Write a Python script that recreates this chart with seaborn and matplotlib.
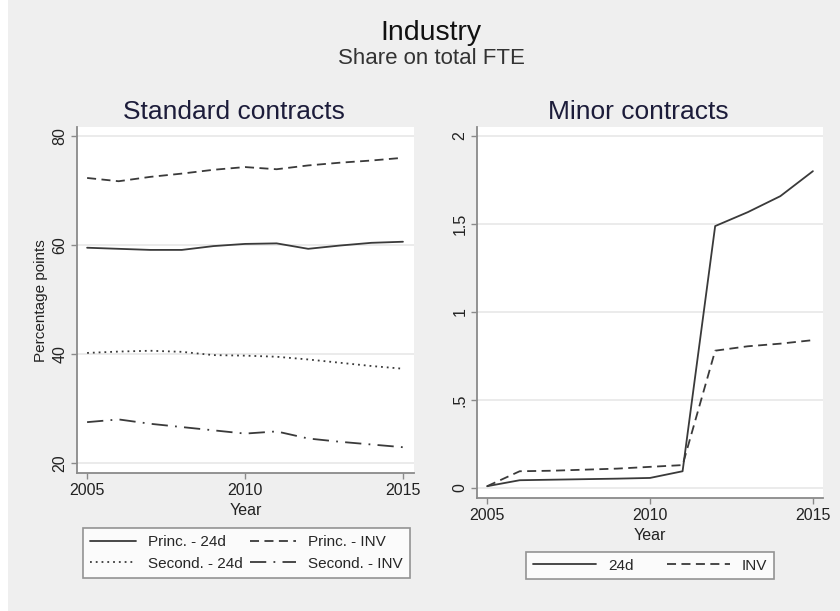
import matplotlib
matplotlib.use("Agg")
import matplotlib.pyplot as plt
import seaborn as sns
import pandas as pd
from matplotlib.patches import Rectangle

years = list(range(2005, 2016))

# Standard contracts (percentage points)
princ_24d = [59.5, 59.3, 59.1, 59.1, 59.8, 60.2, 60.3, 59.3, 59.9, 60.4, 60.6]
princ_inv = [72.3, 71.7, 72.5, 73.1, 73.8, 74.3, 73.9, 74.6, 75.1, 75.5, 76.0]
second_24d = [40.2, 40.45, 40.6, 40.4, 39.8, 39.7, 39.5, 39.0, 38.4, 37.8, 37.3]
second_inv = [27.5, 28.0, 27.2, 26.6, 26.0, 25.4, 25.8, 24.5, 23.9, 23.4, 22.9]

# Minor contracts
minor_24d = [0.01, 0.044, 0.047, 0.050, 0.053, 0.057, 0.095, 1.488, 1.567, 1.658, 1.80]
minor_inv = [0.01, 0.095, 0.098, 0.104, 0.110, 0.120, 0.130, 0.78, 0.805, 0.82, 0.84]

std_labels = ["Princ. - 24d", "Princ. - INV", "Second. - 24d", "Second. - INV"]
minor_labels = ["24d", "INV"]

left_ticks = [20, 40, 60, 80]
right_ticks = [0, 0.5, 1, 1.5, 2]
right_ticklabels = ["0", ".5", "1", "1.5", "2"]
x_ticks = [2005, 2010, 2015]

sns.set_theme(style="white")
plt.rcParams["font.family"] = ["Liberation Sans", "DejaVu Sans"]

bg = "#efefef"
line_col = "#3a3a3a"
title_col = "#1c1c3a"
styles = {
    "solid": "-",
    "dash": (0, (5, 3)),
    "dot": (0, (1, 2.2)),
    "dashdot": (0, (9, 4, 1, 4)),
}

W, H = 840, 611
fig = plt.figure(figsize=(W / 100, H / 100), dpi=100, facecolor=bg)
fig.patches.append(Rectangle((0, 0), 8 / W, 1, transform=fig.transFigure,
                             facecolor="white", edgecolor="none", zorder=-1))


def box(l, t, r, b):
    return [l / W, 1 - b / H, (r - l) / W, (b - t) / H]


ax1 = fig.add_axes(box(77, 127, 414, 473))
ax2 = fig.add_axes(box(477, 127, 823, 498))

std_df = pd.DataFrame({"Year": years, std_labels[0]: princ_24d, std_labels[1]: princ_inv,
                       std_labels[2]: second_24d, std_labels[3]: second_inv})
minor_df = pd.DataFrame({"Year": years, minor_labels[0]: minor_24d, minor_labels[1]: minor_inv})

std_styles = [styles["solid"], styles["dash"], styles["dot"], styles["dashdot"]]
minor_styles = [styles["solid"], styles["dash"]]

h1 = []
for lab, ls in zip(std_labels, std_styles):
    sns.lineplot(data=std_df, x="Year", y=lab, ax=ax1, color=line_col, linestyle=ls, lw=1.3)
    h1.append(ax1.lines[-1])
h2 = []
for lab, ls in zip(minor_labels, minor_styles):
    sns.lineplot(data=minor_df, x="Year", y=lab, ax=ax2, color=line_col, linestyle=ls, lw=1.3)
    h2.append(ax2.lines[-1])

for ax in (ax1, ax2):
    ax.set_facecolor("white")
    for s in ("top", "right"):
        ax.spines[s].set_visible(False)
    for s in ("left", "bottom"):
        ax.spines[s].set_color("#8a8a8a")
        ax.spines[s].set_linewidth(1.3)
    ax.set_xticks(x_ticks)
    ax.set_xticklabels([str(x) for x in x_ticks], fontsize=11.5)
    ax.tick_params(axis="both", direction="out", length=4, width=1, color="#8a8a8a",
                   pad=3, labelcolor="#222222", bottom=True, left=True)
    ax.yaxis.grid(True, color="#e8e8e8", lw=1.2)
    ax.set_axisbelow(True)
    ax.set_xlabel("Year", fontsize=11.5, color="#222222", labelpad=4)
    ax.set_ylabel("")

ax1.set_xlim(2004.68, 2015.35)
ax1.set_ylim(18.17, 81.65)
ax1.set_yticks(left_ticks)
ax1.set_yticklabels([str(t) for t in left_ticks], rotation=90, va="center", fontsize=11.5)

ax2.set_xlim(2004.69, 2015.31)
ax2.set_ylim(-0.057, 2.051)
ax2.set_yticks(right_ticks)
ax2.set_yticklabels(right_ticklabels, rotation=90, va="center", fontsize=11.5)

fig.text(431 / W, 1 - 33 / H, "Industry", ha="center", va="center", fontsize=20.5, color="#111111")
fig.text(431 / W, 1 - 58 / H, "Share on total FTE", ha="center", va="center", fontsize=16,
         color="#333333")
fig.text(233.5 / W, 1 - 112 / H, "Standard contracts", ha="center", va="center", fontsize=19,
         color=title_col)
fig.text(638 / W, 1 - 112 / H, "Minor contracts", ha="center", va="center", fontsize=19,
         color=title_col)
fig.text(41 / W, 1 - 301 / H, "Percentage points", ha="center", va="center", rotation=90,
         fontsize=11, color="#222222")

leg_kw = dict(frameon=True, fancybox=False, fontsize=11, edgecolor="#7a7a7a",
              facecolor="white", borderpad=0.45, labelspacing=0.5, handletextpad=0.8)
# row-major order as in the reference: Princ. pair on top, Second. pair below
order = [0, 2, 1, 3]
l1 = fig.legend([h1[i] for i in order], [std_labels[i] for i in order], ncol=2, loc="center",
                bbox_to_anchor=(246.5 / W, 1 - 553 / H), handlelength=3.0, columnspacing=0.5,
                borderaxespad=0, **leg_kw)
l2 = fig.legend(h2, minor_labels, ncol=2, loc="center",
                bbox_to_anchor=(650 / W, 1 - 565.5 / H), handlelength=4.1, columnspacing=2.2,
                borderaxespad=0, **leg_kw)
for lg in (l1, l2):
    lg.get_frame().set_linewidth(1.2)
    lg.get_frame().set_boxstyle("Square", pad=0)

fig.savefig("out.png", dpi=100, facecolor=bg)
